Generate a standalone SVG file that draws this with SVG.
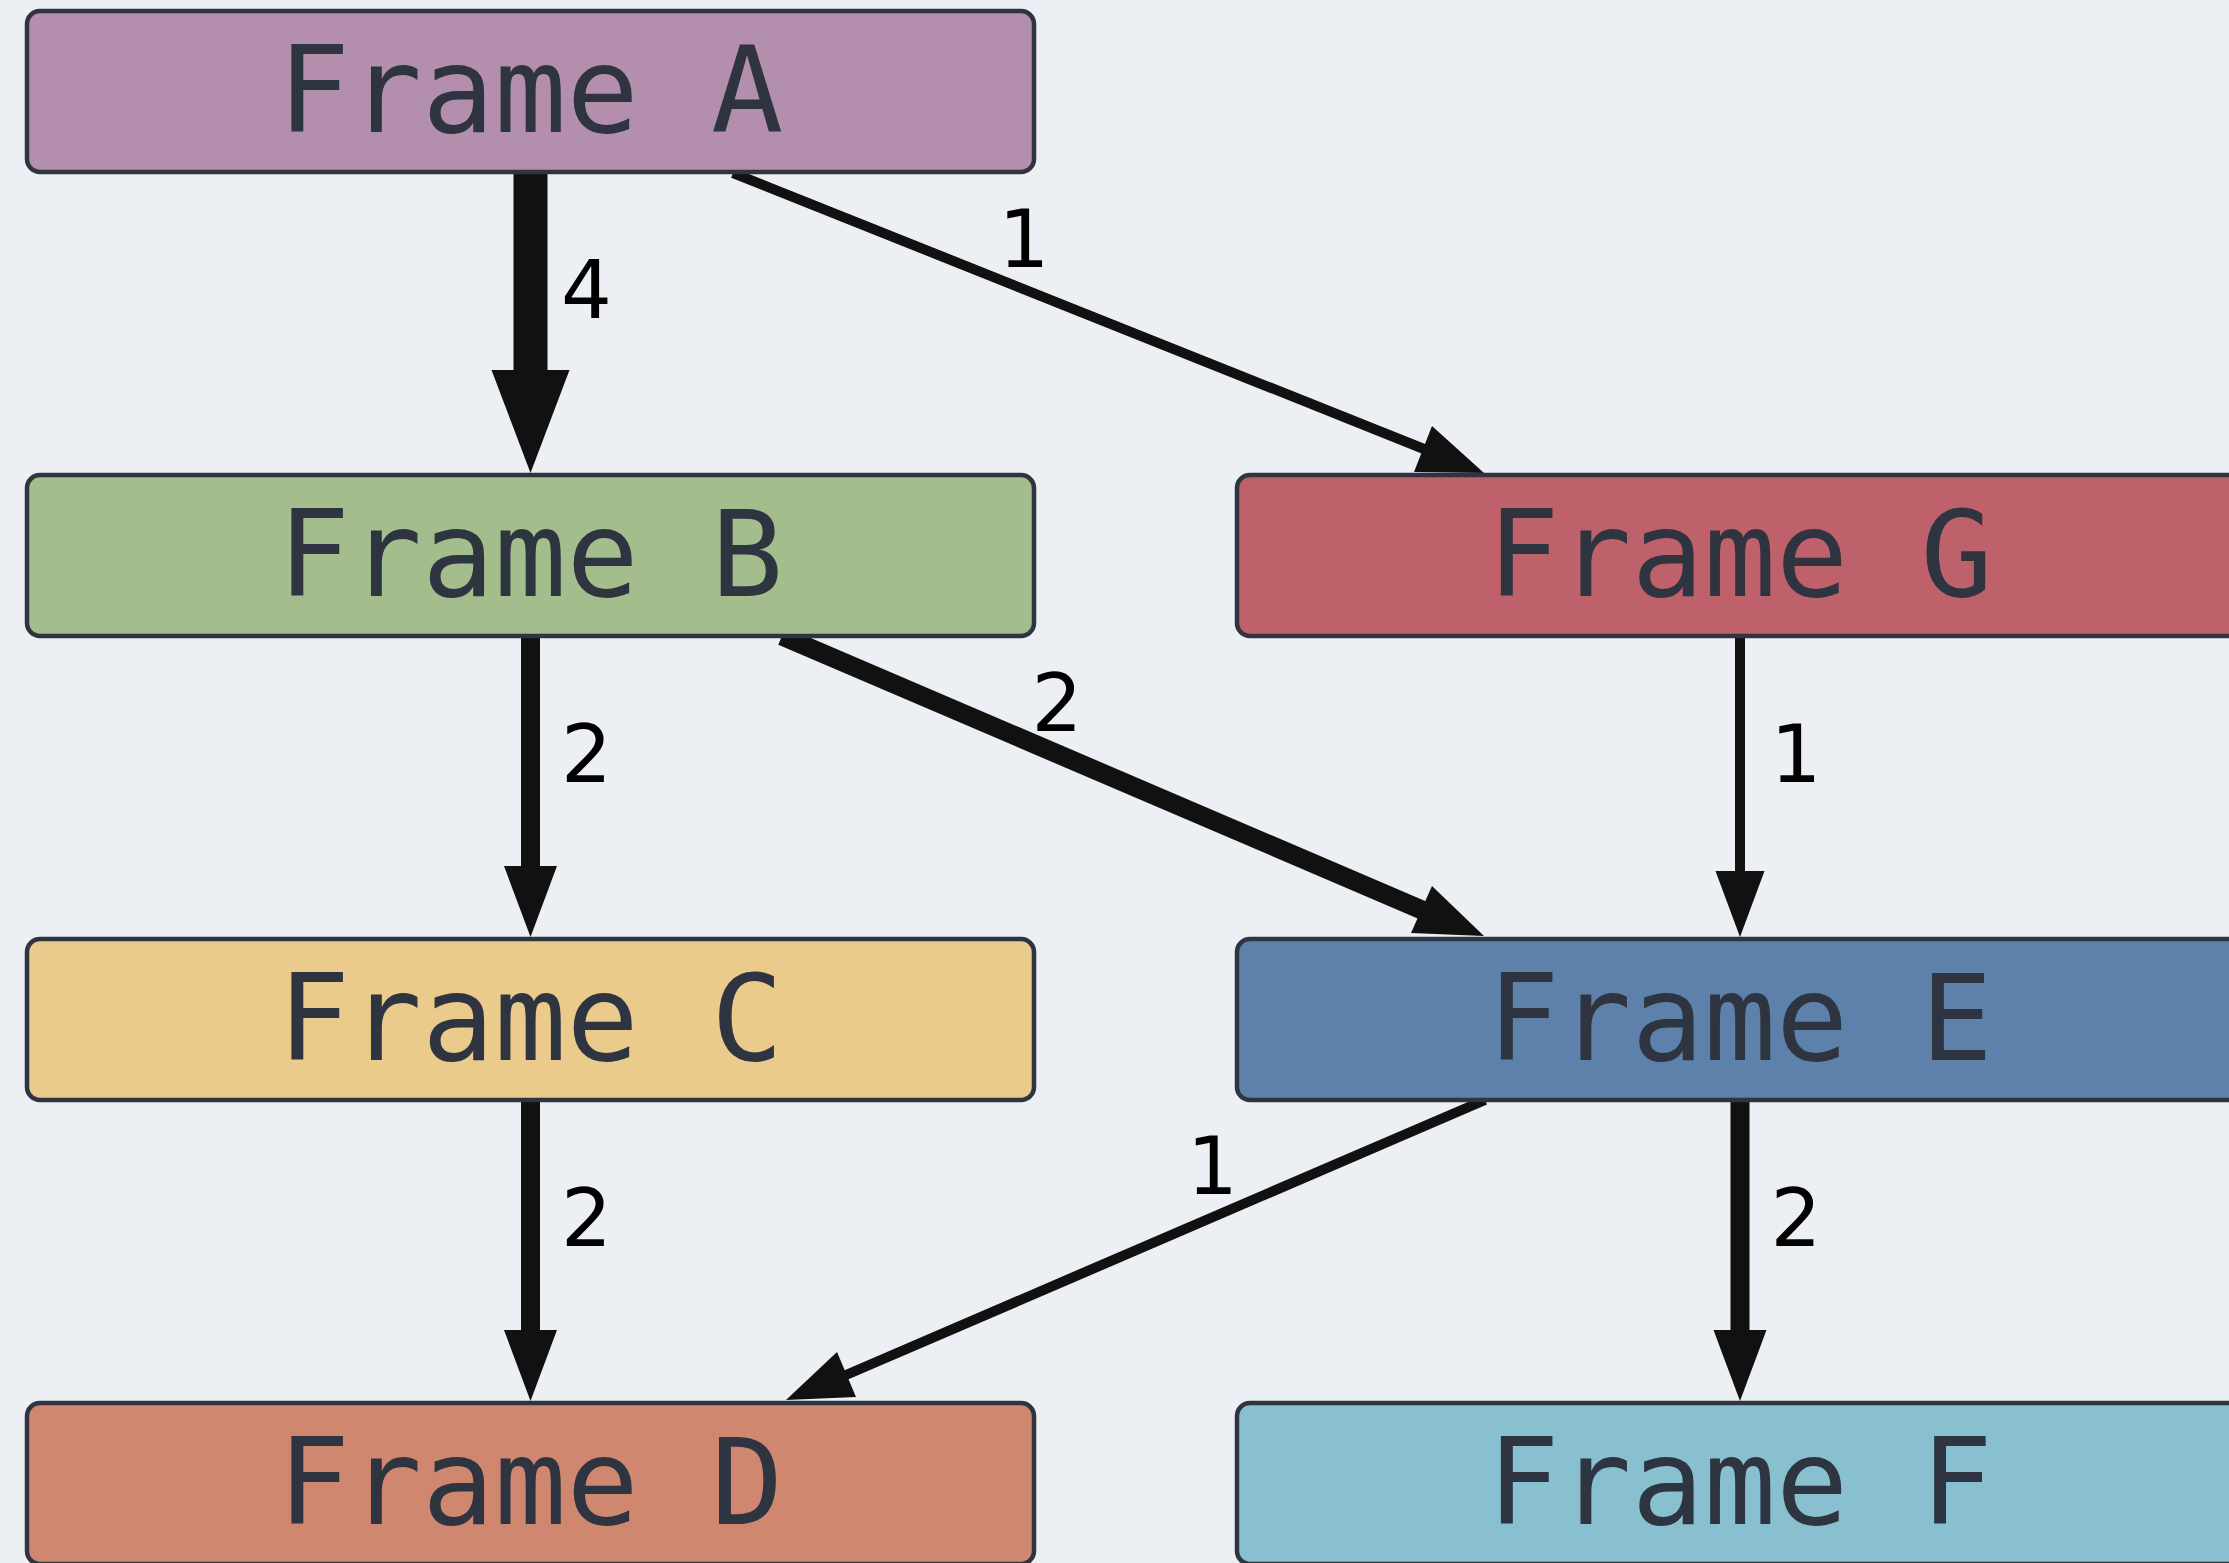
<svg xmlns="http://www.w3.org/2000/svg" width="2229" height="1563" viewBox="0 0 2229 1563">
  <style>
    .node rect { stroke: #2e3440; stroke-width: 4.5; }
    .node text { font-family: "DejaVu Sans Mono", "Liberation Mono", monospace; font-size: 120px; fill: #2e3440; text-anchor: middle; }
    .edge line { stroke: #111111; stroke-linecap: butt; }
    .edge polygon { fill: #111111; stroke: none; }
    .w1 { stroke-width: 10; }
    .w2 { stroke-width: 19; }
    .w4 { stroke-width: 34; }
    .lbl { font-family: "DejaVu Sans", "Liberation Sans", sans-serif; font-size: 80px; fill: #000000; text-anchor: middle; }
  </style>

  <rect x="0" y="0" width="2229" height="1563" fill="#eceff4"/>

  <!-- connectors -->
  <g id="connectors">
    <g class="edge" id="edge-a-b">
      <line class="w4" x1="530.5" y1="172" x2="530.5" y2="371"/>
      <polygon points="491.5,370 569.5,370 530.5,473"/>
      <text class="lbl" x="586.5" y="318">4</text>
    </g>
    <g class="edge" id="edge-a-g">
      <line class="w1" x1="733" y1="173" x2="1424" y2="449"/>
      <polygon points="1484,473 1432,426 1414,472"/>
      <text class="lbl" x="1024" y="267">1</text>
    </g>
    <g class="edge" id="edge-b-c">
      <line class="w2" x1="530.5" y1="635" x2="530.5" y2="867"/>
      <polygon points="504,866 557,866 530.5,937"/>
      <text class="lbl" x="586.5" y="782">2</text>
    </g>
    <g class="edge" id="edge-b-e">
      <line class="w2" x1="782" y1="636" x2="1422" y2="910"/>
      <polygon points="1484,936 1432,886 1411,933"/>
      <text class="lbl" x="1057" y="731">2</text>
    </g>
    <g class="edge" id="edge-g-e">
      <line class="w1" x1="1740" y1="635" x2="1740" y2="872"/>
      <polygon points="1715.5,871 1764.5,871 1740,937"/>
      <text class="lbl" x="1796" y="782">1</text>
    </g>
    <g class="edge" id="edge-c-d">
      <line class="w2" x1="530.5" y1="1100" x2="530.5" y2="1331"/>
      <polygon points="504,1330 557,1330 530.5,1401"/>
      <text class="lbl" x="586.5" y="1246">2</text>
    </g>
    <g class="edge" id="edge-e-d">
      <line class="w1" x1="1485" y1="1100" x2="846" y2="1375"/>
      <polygon points="786,1400 837,1352 856,1397"/>
      <text class="lbl" x="1212.5" y="1194">1</text>
    </g>
    <g class="edge" id="edge-e-f">
      <line class="w2" x1="1740" y1="1100" x2="1740" y2="1331"/>
      <polygon points="1713.5,1330 1766.5,1330 1740,1401"/>
      <text class="lbl" x="1796" y="1246">2</text>
    </g>
  </g>

  <!-- frames -->
  <g class="node" id="frame-a">
    <rect x="27" y="11" width="1007" height="161" rx="13" fill="#b48ead"/>
    <text x="530.5" y="132">Frame A</text>
  </g>
  <g class="node" id="frame-b">
    <rect x="27" y="475" width="1007" height="161" rx="13" fill="#a3be8c"/>
    <text x="530.5" y="596">Frame B</text>
  </g>
  <g class="node" id="frame-c">
    <rect x="27" y="939" width="1007" height="161" rx="13" fill="#ebcb8b"/>
    <text x="530.5" y="1060">Frame C</text>
  </g>
  <g class="node" id="frame-d">
    <rect x="27" y="1403" width="1007" height="161" rx="13" fill="#d08770"/>
    <text x="530.5" y="1524">Frame D</text>
  </g>
  <g class="node" id="frame-g">
    <rect x="1237" y="475" width="1007" height="161" rx="13" fill="#bf616a"/>
    <text x="1740" y="596">Frame G</text>
  </g>
  <g class="node" id="frame-e">
    <rect x="1237" y="939" width="1007" height="161" rx="13" fill="#5e81ac"/>
    <text x="1740" y="1060">Frame E</text>
  </g>
  <g class="node" id="frame-f">
    <rect x="1237" y="1403" width="1007" height="161" rx="13" fill="#88c0d0"/>
    <text x="1740" y="1524">Frame F</text>
  </g>
</svg>
